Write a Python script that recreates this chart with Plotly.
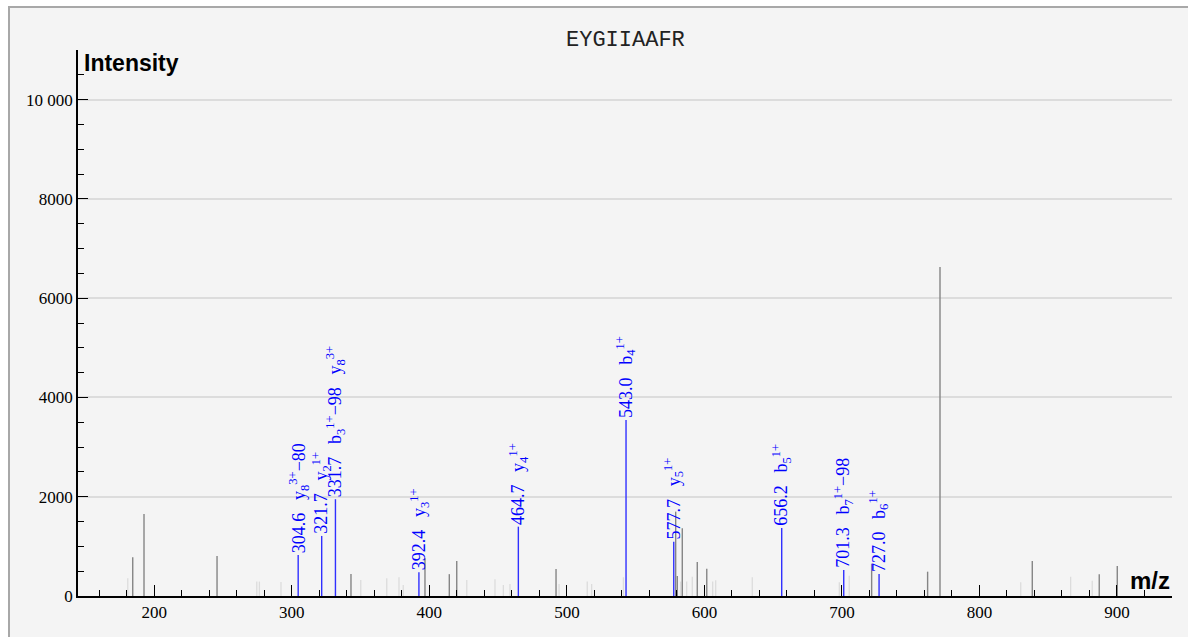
import plotly.graph_objects as go

title_text = "EYGIIAAFR"

# annotated (matched) peaks
ion_mz = [304.6, 321.7, 331.7, 392.4, 464.7, 543.0, 577.7, 656.2, 701.3, 727.0]
ion_int = [826, 1210, 1950, 478, 1397, 3548, 1095, 1371, 524, 444]
ion_names = [
    ["y<sub>8</sub><sup>3+</sup>−80"],
    ["y<sub>2</sub><sup>1+</sup>"],
    ["b<sub>3</sub><sup>1+</sup>−98", "y<sub>8</sub><sup>3+</sup>"],
    ["y<sub>3</sub><sup>1+</sup>"],
    ["y<sub>4</sub><sup>1+</sup>"],
    ["b<sub>4</sub><sup>1+</sup>"],
    ["y<sub>5</sub><sup>1+</sup>"],
    ["b<sub>5</sub><sup>1+</sup>"],
    ["b<sub>7</sub><sup>1+</sup>−98"],
    ["b<sub>6</sub><sup>1+</sup>"],
]

# unannotated peaks (medium gray)
gray_mz = [184.3, 192.5, 245.6, 343.0, 396.8, 414.5, 419.9, 492.1, 579.1, 580.3,
           583.9, 594.8, 601.7, 721.6, 762.3, 771.3, 838.4, 887.1, 900.2]
gray_int = [780, 1653, 806, 443, 760, 440, 705, 544, 1700, 403,
            1365, 683, 550, 650, 490, 6630, 706, 437, 605]

# weak peaks (light gray)
light_mz = [180.7, 274.5, 276.4, 292.1, 350.1, 369.0, 377.9, 381.0, 427.2, 447.7,
            453.8, 458.6, 494.3, 514.8, 518.0, 541.1, 582.7, 587.1, 591.2, 606.0,
            608.2, 634.8, 698.1, 705.3, 830.0, 866.3, 882.0]
light_int = [357, 290, 290, 280, 322, 357, 377, 222, 322, 337,
             222, 242, 242, 290, 242, 377, 290, 290, 390, 290,
             315, 377, 275, 410, 275, 390, 308]

y_tickvals = [0, 2000, 4000, 6000, 8000, 10000]
y_ticktext = ["0", "2000", "4000", "6000", "8000", "10 000"]


def sticks(mzs, ints):
    xs, ys = [], []
    for m, i in zip(mzs, ints):
        xs += [m, m, None]
        ys += [0, i, None]
    return xs, ys


fig = go.Figure()
for mzs, ints, col, w in [(light_mz, light_int, "#dcdcdc", 1.3),
                          (gray_mz, gray_int, "#858585", 1.4),
                          (ion_mz, ion_int, "#3030ff", 1.4)]:
    xs, ys = sticks(mzs, ints)
    fig.add_trace(go.Scatter(x=xs, y=ys, mode="lines",
                             line=dict(color=col, width=w),
                             hoverinfo="skip", showlegend=False))

annotations = []
for m, i, names in zip(ion_mz, ion_int, ion_names):
    txt = f"{m:.1f}" + "".join("\u2002\u2009" + n for n in names)
    annotations.append(dict(x=m, y=i, xref="x", yref="y", text=txt,
                            textangle=-90, showarrow=False,
                            xanchor="center", yanchor="bottom",
                            font=dict(family="Liberation Serif", size=18, color="#0000ff")))

annotations += [
    dict(x=0.5, y=1, xref="paper", yref="paper", text=title_text, showarrow=False,
         xanchor="center", yanchor="middle", yshift=10,
         font=dict(family="Liberation Mono", size=22, color="#222")),
    dict(x=0, y=1, xref="paper", yref="paper", text="<b>Intensity</b>", showarrow=False,
         xanchor="left", yanchor="top", xshift=4, yshift=2,
         font=dict(family="Liberation Sans", size=23, color="black")),
    dict(x=1, y=0, xref="paper", yref="paper", text="<b>m/z</b>", showarrow=False,
         xanchor="right", yanchor="bottom", xshift=0, yshift=0,
         font=dict(family="Liberation Sans", size=24, color="black")),
]

# figure placed at (8, 6) on the page
L, R, T, B = 70, 16, 44, 41
W, H = 1180, 631
pw, ph = W - L - R, H - T - B


def px(x):
    return (x - L) / pw


def py(y):
    return (H - B - y) / ph


shapes = [
    dict(type="line", xref="paper", yref="paper", x0=px(1), x1=px(1), y0=py(H + 2), y1=py(0),
         line=dict(color="#a8a8a8", width=2), layer="above"),
    dict(type="line", xref="paper", yref="paper", x0=px(0), x1=px(W + 2), y0=py(1), y1=py(1),
         line=dict(color="#a8a8a8", width=2), layer="above"),
]

fig.update_layout(
    width=W, height=H,
    margin=dict(l=L, r=R, t=T, b=B),
    paper_bgcolor="#f4f4f4", plot_bgcolor="#f4f4f4",
    annotations=annotations, shapes=shapes,
    font=dict(family="Liberation Serif", size=16, color="black"),
    xaxis=dict(range=[144.5, 940], tickmode="linear", tick0=0, dtick=100,
               ticks="inside", ticklen=11, tickwidth=1.3, tickcolor="black",
               showline=True, linecolor="black", linewidth=1.5,
               showgrid=False, zeroline=False,
               minor=dict(dtick=20, tick0=0, ticks="inside", ticklen=6,
                          tickwidth=1.3, tickcolor="black", showgrid=False),
               tickfont=dict(family="Liberation Serif", size=17)),
    yaxis=dict(range=[0, 11000], tickmode="array", tickvals=y_tickvals, ticktext=y_ticktext,
               ticks="inside", ticklen=10, tickwidth=1.3, tickcolor="black",
               showline=True, linecolor="black", linewidth=1.5,
               showgrid=True, gridcolor="#dcdcdc", gridwidth=1.5, zeroline=False,
               minor=dict(dtick=500, tick0=0, ticks="inside", ticklen=6,
                          tickwidth=1.3, tickcolor="black", showgrid=False),
               tickfont=dict(family="Liberation Serif", size=17)),
)

post = (
    "var st=document.createElement('style');"
    "st.textContent='::-webkit-scrollbar{display:none;width:0;height:0}"
    "html,body{overflow:hidden;scrollbar-width:none;}"
    "body{margin:6px 0 0 8px;}';"
    "document.head.appendChild(st);"
)

fig.write_html("out.html", post_script=post)
